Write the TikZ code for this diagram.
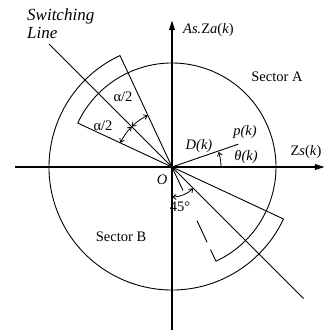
\documentclass[tikz,border=0pt]{standalone}
\usepackage{fontspec}
\setmainfont{Liberation Serif}
\usetikzlibrary{arrows.meta,positioning}

\begin{document}
\begin{tikzpicture}[
    x=1pt, y=1pt,
    axis/.style={line width=2.6pt, -{Triangle[length=11pt,width=5pt]}},
    bline/.style={line width=0.9pt},
    dline/.style={line width=0.9pt, dash pattern=on 26pt off 33pt on 24pt off 8pt on 14pt off 8pt},
    ang/.style={line width=0.8pt, {Straight Barb[length=3.5pt,width=5pt]}-{Straight Barb[length=3.5pt,width=5pt]}},
    oneang/.style={line width=0.8pt, -{Straight Barb[length=3.5pt,width=5pt]}},
    lbl/.style={font=\fontsize{14.5}{16}\selectfont, inner sep=1pt},
    ilbl/.style={font=\fontsize{14.5}{16}\selectfont\itshape, inner sep=1pt}
]
\useasboundingbox (-172,-163) rectangle (154,167);

\coordinate (O) at (0,0);
\coordinate (xL) at (-157,0);
\coordinate (xR) at (154,0);
\coordinate (yB) at (0,-163);
\coordinate (yT) at (0,148);
\draw[axis] (xL) -- (xR);
\draw[axis] (yB) -- (yT);

\coordinate (swT) at (135:174);
\coordinate (swB) at (-45:186);
\draw[bline] (swT) -- (swB);

\coordinate (ulOut) at (115:123);
\coordinate (ulIn) at (155:104);
\coordinate (lrOut) at (-25:123);
\coordinate (lrIn) at (-65:104);
\draw[bline] (O) -- (ulOut);
\draw[bline] (O) -- (ulIn);
\draw[bline] (O) -- (lrOut);
\draw[dline] (O) -- (lrIn);
\draw[bline] (lrIn) arc[start angle=-65, end angle=155, radius=104];
\draw[bline] (ulOut) arc[start angle=115, end angle=335, radius=123];

\coordinate (pk) at (19:70);
\draw[bline] (O) -- (pk);
\coordinate (th0) at (0:49);
\draw[oneang] (th0) arc[start angle=0, end angle=18, radius=49];

\coordinate (al0) at (155:57);
\coordinate (al1) at (135:57);
\draw[ang] (al0) arc[start angle=155, end angle=135, radius=57];
\draw[ang] (al1) arc[start angle=135, end angle=115, radius=57];
\coordinate (fv) at (-90:30);
\draw[ang] (fv) arc[start angle=-90, end angle=-45, radius=30];

\node[lbl] (secA) at (105,90) {Sector A};
\node[lbl] (secB) at (-51,-70) {Sector B};
\node[lbl, anchor=west] (ylab) at (10,137) {\textit{As.}Z\textit{a}(\textit{k})};
\node[lbl] (xlab) at (134,15) {Z\textit{s}(\textit{k})};
\node[ilbl] (olab) at (-10,-13) {O};
\node[ilbl, font=\fontsize{17}{18}\selectfont\itshape, align=left, anchor=west] (swlab) at (-146,143) {Switching\\Line};
\node[ilbl] (plab) at (73,35) {p(k)};
\node[ilbl] (dlab) at (27,21) {D(k)};
\node[ilbl] (tlab) at (74,10) {θ(k)};
\node[lbl] (a1lab) at (-49,70) {α/2};
\node[lbl] (a2lab) at (-69,41) {α/2};
\node[lbl] (flab) at (8,-40) {45°};
\end{tikzpicture}
\end{document}
